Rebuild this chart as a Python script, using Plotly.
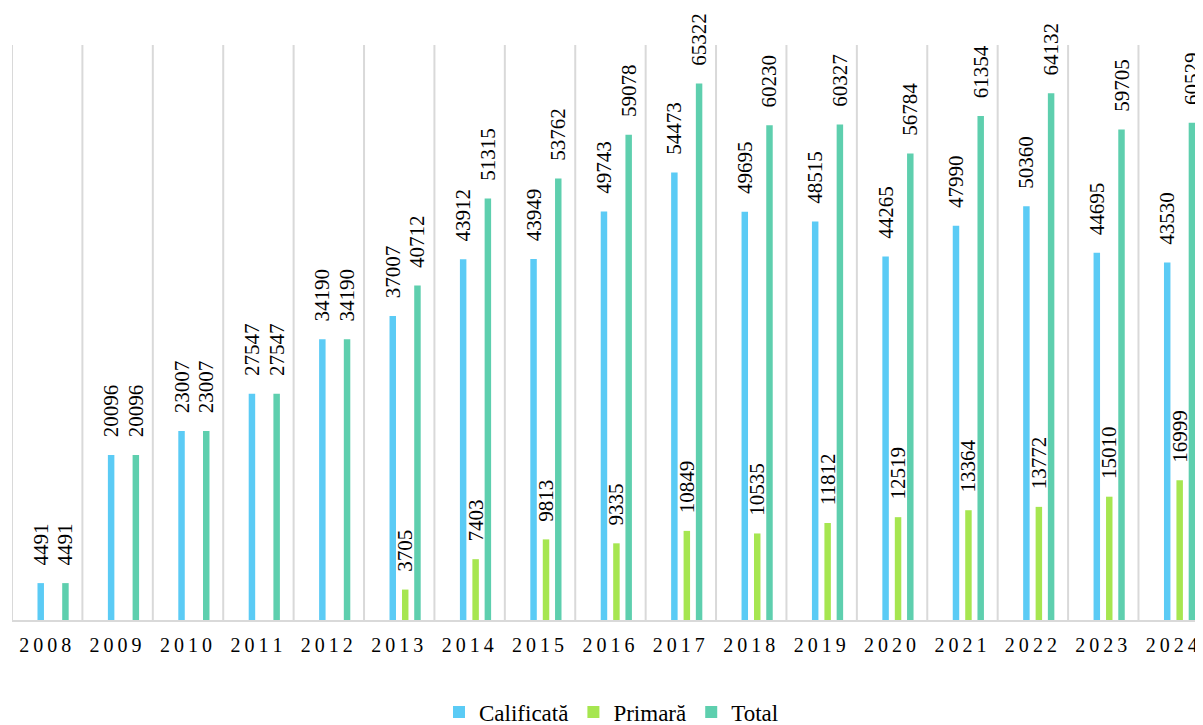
import plotly.graph_objects as go

years = [str(y) for y in range(2008, 2025)]
calificata = [4491, 20096, 23007, 27547, 34190, 37007, 43912, 43949, 49743, 54473,
              49695, 48515, 44265, 47990, 50360, 44695, 43530]
primara = [None, None, None, None, None, 3705, 7403, 9813, 9335, 10849,
           10535, 11812, 12519, 13364, 13772, 15010, 16999]
total = [4491, 20096, 23007, 27547, 34190, 40712, 51315, 53762, 59078, 65322,
         60230, 60327, 56784, 61354, 64132, 59705, 60529]

names = ["Calificată", "Primară", "Total"]
colors = ["#5BCBF5", "#A6E650", "#5ECFAE"]
series = [calificata, primara, total]
offsets = [-0.138, 0.039, 0.213]
bw = 0.092

FONT = "Liberation Serif, Times New Roman, serif"

xs = list(range(len(years)))
PAD = "\u00a0\u00a0\u2009"

fig = go.Figure()
for name, col, vals, off in zip(names, colors, series, offsets):
    fig.add_trace(go.Bar(
        x=xs, y=vals, name=name, marker=dict(color=col, line=dict(width=0)),
        width=bw, offset=off,
        text=[(PAD + str(v)) if v is not None else "" for v in vals],
        textposition="outside", textangle=-90, constraintext="none",
        cliponaxis=False,
        textfont=dict(family=FONT, size=21, color="#000000"),
    ))

# vertical category separators
for k in range(-1, len(years)):
    fig.add_shape(type="line", x0=k + 0.5, x1=k + 0.5, y0=0, y1=70000,
                  xref="x", yref="y", line=dict(color="#D9D9D9", width=2), layer="below")

fig.update_layout(
    width=1203, height=725,
    margin=dict(l=3.5, r=0, t=37, b=113, autoexpand=False),
    paper_bgcolor="white", plot_bgcolor="white",
    barmode="overlay",
    showlegend=True,
    legend=dict(orientation="h", x=0.5, xanchor="center", y=-0.16, yanchor="middle",
                font=dict(family=FONT, size=23, color="#000000"),
                traceorder="normal"),
    font=dict(family=FONT, color="#000000"),
)
fig.update_xaxes(
    range=[-0.5, 16.53], tickmode="array", tickvals=xs,
    ticktext=["\u2009".join(list(y)) + "\u2009" for y in years],
    tickfont=dict(family=FONT, size=20, color="#000000"),
    showgrid=False, zeroline=False, showline=True, linecolor="#D9D9D9", linewidth=2,
    ticks="", ticklabelstandoff=6, automargin=False,
)
fig.update_yaxes(range=[0, 70000], visible=False, showgrid=False, zeroline=False,
                 automargin=False)

fig.write_html("out.html")
